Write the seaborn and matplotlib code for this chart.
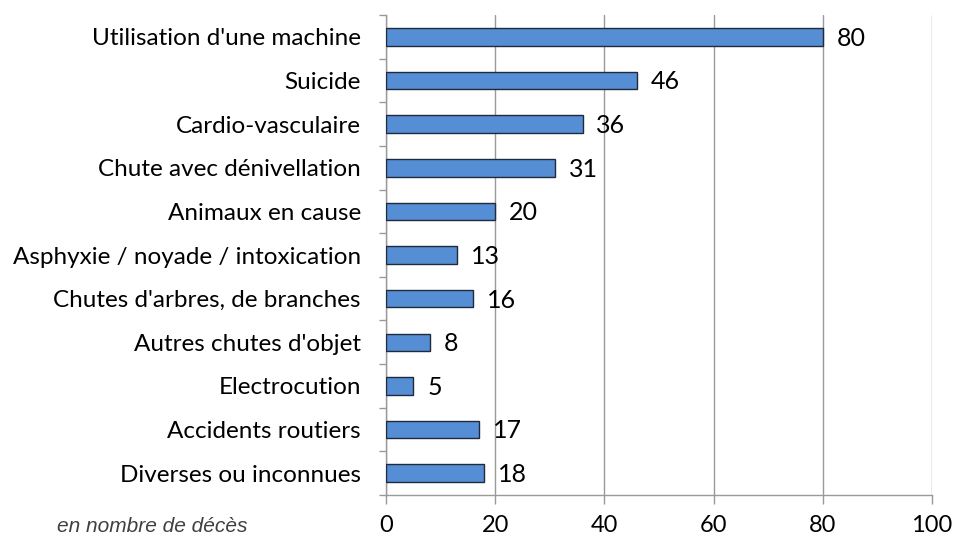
import matplotlib
matplotlib.use("Agg")
import matplotlib.pyplot as plt
import numpy as np
import pandas as pd
import seaborn as sns

# Données
causes = [
    "Utilisation d'une machine",
    "Suicide",
    "Cardio-vasculaire",
    "Chute avec dénivellation",
    "Animaux en cause",
    "Asphyxie / noyade / intoxication",
    "Chutes d'arbres, de branches",
    "Autres chutes d'objet",
    "Electrocution",
    "Accidents routiers",
    "Diverses ou inconnues",
]
deces = [80, 46, 36, 31, 20, 13, 16, 8, 5, 17, 18]
x_ticks = [0, 20, 40, 60, 80, 100]

df = pd.DataFrame({"cause": causes, "deces": deces})

sns.set_style("white")
plt.rcParams["font.family"] = ["Lato", "DejaVu Sans"]

fig = plt.figure(figsize=(9.54, 5.38), dpi=100)
ax = fig.add_axes([0.4046, 0.0799, 0.977 - 0.4046, 0.972 - 0.0799])

sns.barplot(data=df, x="deces", y="cause", orient="h", color="#558ED5",
            saturation=1, width=0.4, edgecolor="#1F2A3A", linewidth=1, ax=ax, zorder=3)

# Grille verticale
ax.set_xlim(0, 100)
ax.set_xticks(x_ticks)
ax.xaxis.grid(True, color="#999999", linewidth=1, zorder=0)
ax.yaxis.grid(False)

# Axes
for s in ["top", "right"]:
    ax.spines[s].set_visible(False)
for s in ["left", "bottom"]:
    ax.spines[s].set_color("#999999")
    ax.spines[s].set_linewidth(1)

ax.set_xlabel("")
ax.set_ylabel("")
ax.tick_params(axis="x", length=6.5, width=1, color="#999999", pad=8, labelsize=17, labelcolor="#000000", bottom=True)
ax.tick_params(axis="y", which="major", length=0, pad=18, labelsize=17.5, labelcolor="#000000")
ax.set_yticks(np.arange(-0.5, len(causes) + 0.5, 1), minor=True)
ax.tick_params(axis="y", which="minor", length=5, width=1, color="#999999", left=True)

# Valeurs
for i, v in enumerate(deces):
    ax.annotate(str(v), (v, i), xytext=(10, -1), textcoords="offset points",
                ha="left", va="center", fontsize=18, color="#000000")

fig.text(0.16, 0.012, "en nombre de décès", fontsize=15, style="italic",
         color="#404040", ha="center", va="baseline", family=["Liberation Sans", "DejaVu Sans"])

fig.savefig("out.png", dpi=100)
